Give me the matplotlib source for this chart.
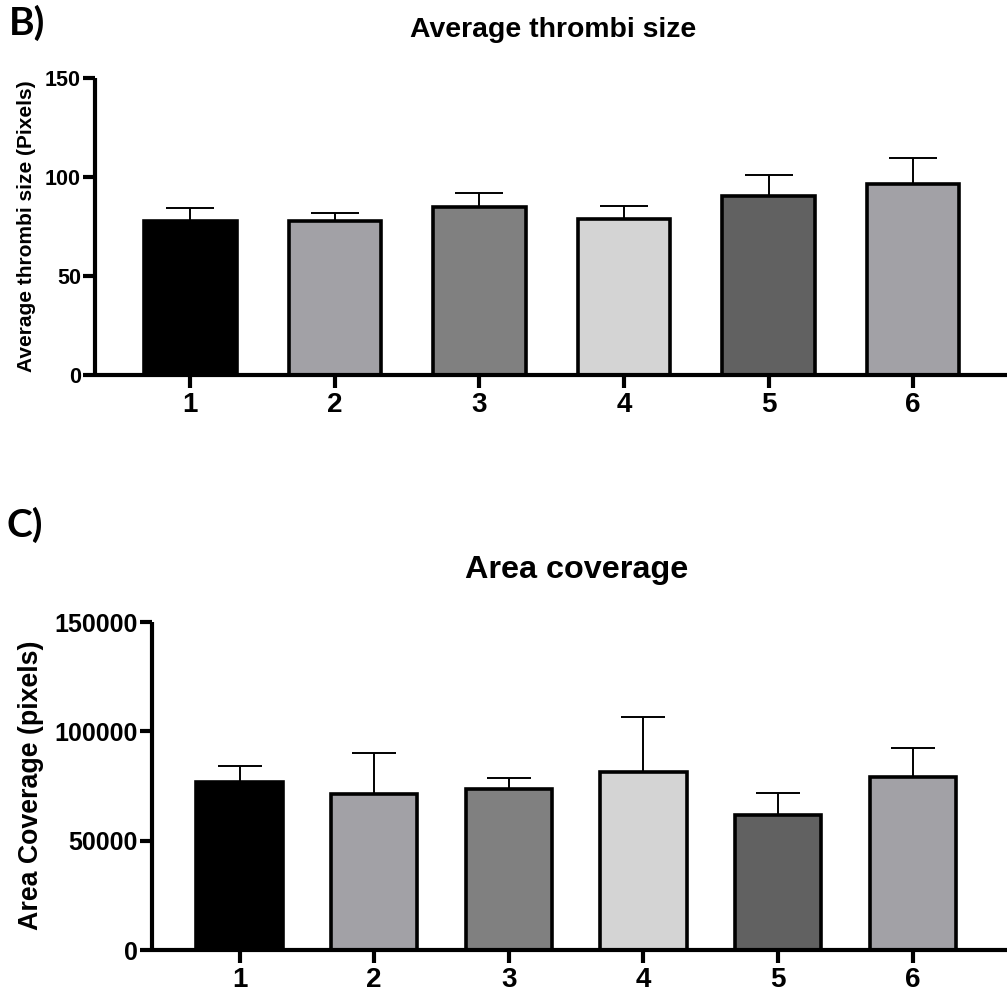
import matplotlib
matplotlib.use("Agg")
import matplotlib.pyplot as plt
import numpy as np

W, H = 1007, 996
DPI = 100

groups = ["1", "2", "3", "4", "5", "6"]
bar_colors = ["#000000", "#a2a1a6", "#808080", "#d4d4d4", "#616161", "#a2a1a6"]

thrombi_mean = [78, 78, 84.6, 78.8, 90.5, 96.3]
thrombi_err = [6.3, 3.7, 7.5, 6.5, 10.4, 13.3]
thrombi_ticks = [0, 50, 100, 150]

coverage_mean = [77000, 71300, 73400, 81600, 61700, 79100]
coverage_err = [7200, 18600, 5400, 25000, 10200, 13500]
coverage_ticks = [0, 50000, 100000, 150000]

FONT = "Liberation Sans"

fig = plt.figure(figsize=(W / DPI, H / DPI), dpi=DPI)


def px_axes(left, bottom_px, top_px, right=W):
    return fig.add_axes([left / W, 1 - bottom_px / H,
                         (right - left) / W, (bottom_px - top_px) / H])


def panel(ax, means, errs, ticks, xlim, width, capsize, ytick_size, xtick_size):
    x = np.arange(1, len(means) + 1)
    ax.errorbar(x, means, yerr=[np.zeros(len(errs)), errs], fmt="none",
                ecolor="black", elinewidth=1.4, capsize=capsize, capthick=1.4,
                zorder=1)
    ax.bar(x, means, width=width, color=bar_colors, edgecolor="black",
           linewidth=2.6, zorder=2)
    ax.set_xlim(*xlim)
    ax.set_ylim(ticks[0], ticks[-1])
    ax.set_yticks(ticks)
    ax.set_xticks(x)
    ax.set_xticklabels(groups)
    for s in ("top", "right"):
        ax.spines[s].set_visible(False)
    for s in ("left", "bottom"):
        ax.spines[s].set_linewidth(3.0)
        ax.spines[s].set_capstyle("butt")
    ax.tick_params(axis="both", width=3.0, length=9, color="black")
    ax.tick_params(axis="y", labelsize=ytick_size, pad=1)
    ax.tick_params(axis="x", labelsize=xtick_size, pad=3)
    for lab in ax.get_xticklabels() + ax.get_yticklabels():
        lab.set_fontweight("bold")
        lab.set_fontfamily(FONT)
    ax.patch.set_alpha(0)


# Panel B: average thrombi size
axB = px_axes(95, 375, 78)
panel(axB, thrombi_mean, thrombi_err, thrombi_ticks, (0.34, 6.65), 0.64,
      17.5, 15.5, 20)
fig.text(27 / W, 1 - 226 / H, "Average thrombi size (Pixels)", rotation=90,
         ha="center", va="center", fontsize=15, fontweight="bold",
         family=FONT)
fig.text(553 / W, 1 - 30 / H, "Average thrombi size", ha="center",
         va="center", fontsize=20.4, fontweight="bold", family=FONT)
fig.text(9 / W, 1 - 23 / H, "B)", ha="left", va="center", fontsize=28,
         fontweight="bold", family="Lato")

# Panel C: area coverage
axC = px_axes(152, 950, 622)
panel(axC, coverage_mean, coverage_err, coverage_ticks, (0.35, 6.70), 0.64,
      15.5, 18, 20)
fig.text(31 / W, 1 - 785 / H, "Area Coverage (pixels)", rotation=90,
         ha="center", va="center", fontsize=19.3, fontweight="bold",
         family=FONT)
fig.text(577 / W, 1 - 570 / H, "Area coverage", ha="center", va="center",
         fontsize=23.3, fontweight="bold", family=FONT)
fig.text(7 / W, 1 - 525 / H, "C)", ha="left", va="center", fontsize=28,
         fontweight="bold", family="Lato")

fig.savefig("out.png", dpi=DPI)
